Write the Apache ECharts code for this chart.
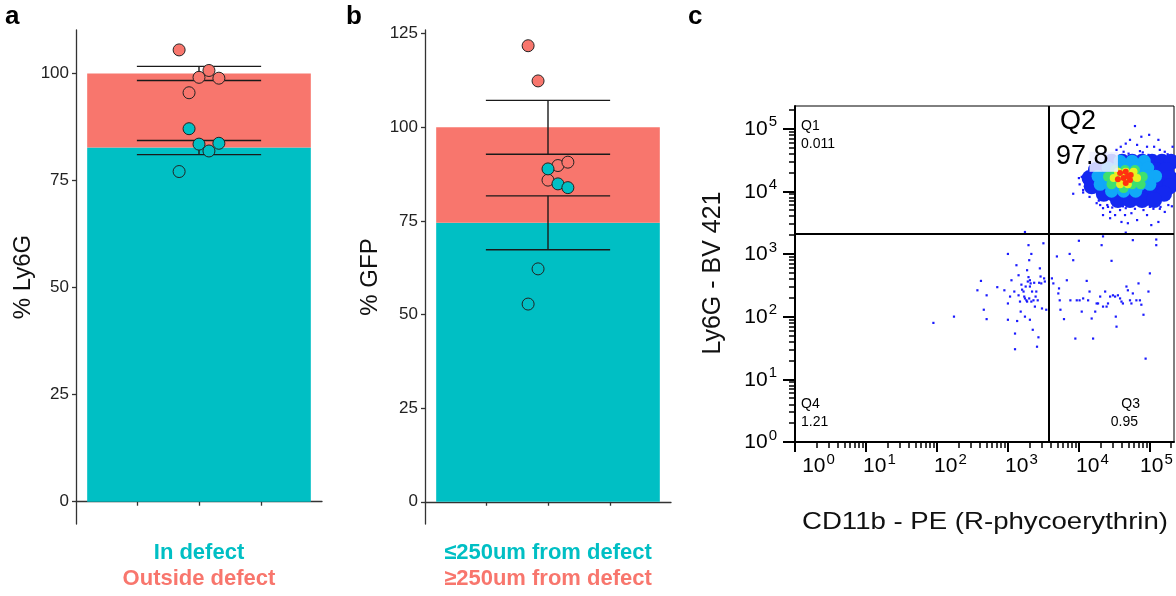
<!DOCTYPE html>
<html><head><meta charset="utf-8">
<script src="https://cdn.jsdelivr.net/npm/echarts@6/dist/echarts.min.js"></script>
<style>html,body{margin:0;padding:0;background:#fff}#c{width:1176px;height:596px}</style>
</head><body><div id="c"></div><script>
// ================= DATA =================
// panels a & b : one group centred at x = 1, five replicate points per fraction
const groupX = 1;
const jitterX = [0.92, 0.96, 1.00, 1.04, 1.08];
const yTicksA = [0, 25, 50, 75, 100];
const yTicksB = [0, 25, 50, 75, 100, 125];
const groupTicks = [0.75, 1.00, 1.25];

// a: % Ly6G
const aTealPts   = [77.1, 87.1, 83.5, 81.9, 83.7];
const aSalmonPts = [105.5, 95.5, 99.1, 100.7, 98.9];
const aTealMean = 82.7, aTotal = 100;
const aTealSE = 1.65, aSalmonSE = 1.65;
const aLabels = ['In defect', 'Outside defect'];

// b: % GFP
const bTealPts   = [52.8, 62.2, 88.9, 84.9, 83.9];
const bSalmonPts = [121.8, 112.4, 85.9, 89.8, 90.7];
const bTealMean = 74.5, bTotal = 100;
const bTealSE = 7.2, bSalmonSE = 7.2;
const bLabels = ['≤250um from defect', '≥250um from defect'];

// c: flow cytometry, values are log10 of fluorescence intensity
const cDecades = [0, 1, 2, 3, 4, 5];
const gateX = 3.58, gateY = 3.32;
const quadLabels = [['Q1', '0.011'], ['Q2', '97.8'], ['Q3', '0.95'], ['Q4', '1.21']];
const sparseEvents = [
[1.95,1.90],[2.24,2.00],[2.57,2.42],[2.62,2.57],[2.66,2.11],[2.70,2.34],[2.70,1.96],[2.85,2.47],[2.95,2.42],[3.00,3.00],
[3.00,2.21],[3.00,1.95],[3.03,2.32],[3.05,2.58],[3.09,2.40],[3.10,1.73],[3.10,1.48],[3.12,2.82],[3.13,1.93],[3.15,2.66],
[3.15,2.34],[3.17,2.24],[3.18,2.08],[3.19,2.51],[3.20,2.43],[3.22,2.40],[3.23,2.32],[3.24,2.29],[3.24,2.00],[3.25,2.48],
[3.26,2.26],[3.27,2.24],[3.27,2.74],[3.28,2.56],[3.29,2.63],[3.30,2.90],[3.30,2.29],[3.31,1.95],[3.31,2.58],[3.31,2.48],
[3.32,2.53],[3.33,3.00],[3.33,2.24],[3.34,2.40],[3.35,1.79],[3.36,2.26],[3.37,2.54],[3.38,2.16],[3.39,2.32],[3.40,2.40],
[3.41,1.52],[3.42,2.26],[3.43,1.67],[3.44,2.54],[3.45,2.77],[3.46,2.64],[3.47,2.53],[3.48,2.13],[3.51,2.61],[3.52,2.56],
[3.54,2.11],[3.24,3.35],[3.29,3.14],[3.50,3.17],
[3.62,2.61],[3.64,2.53],[3.69,2.96],[3.71,2.37],[3.72,2.45],[3.73,2.26],[3.74,2.11],[3.79,1.96],[3.83,2.58],[3.87,3.00],
[3.88,2.26],[3.92,2.90],[3.95,1.65],[3.97,2.26],[4.01,2.26],[4.04,2.08],[4.06,2.29],[4.11,2.57],[4.13,2.26],[4.15,2.40],
[4.18,1.97],[4.20,1.65],[4.23,2.08],[4.25,2.21],[4.27,2.21],[4.30,2.32],[4.34,2.16],[4.37,2.40],[4.39,2.16],[4.41,2.21],
[4.44,2.32],[4.46,2.89],[4.48,2.34],[4.51,2.32],[4.52,2.00],[4.53,1.84],[4.55,2.34],[4.58,2.29],[4.60,2.24],[4.62,2.21],
[4.67,2.48],[4.69,2.42],[4.72,2.26],[4.74,2.21],[4.76,2.37],[4.81,2.26],[4.84,2.53],[4.86,2.26],[4.88,2.19],[4.91,2.03],
[4.94,1.33],[4.98,2.40],[5.00,2.69],
[4.00,3.21],[4.34,3.28],[4.76,3.22],[5.09,3.23],[4.32,3.14],[4.66,3.34],[5.09,3.14]
];
const cloudSpeckle = [
[4.79,5.04],[4.88,4.87],[4.99,4.90],[4.72,4.82],[4.66,4.76],[4.82,4.74],[4.96,4.71],[5.06,4.71],[5.12,4.82],[4.59,4.71],
[4.53,4.66],[5.21,4.63],[5.32,4.71],[3.92,3.96],[4.04,4.23],[4.08,4.15],[4.11,4.05],[4.15,3.91],[4.20,4.31],[4.25,3.81],
[4.34,3.73],[4.44,3.67],[4.51,3.62],[4.58,3.70],[4.65,3.62],[4.60,3.51],[4.74,3.65],[4.82,3.54],[4.91,3.70],[4.96,3.62],
[5.02,3.46],[5.12,3.51],[5.21,3.67],[5.26,3.78],[4.44,3.57],[4.69,3.49],[4.34,3.62],[5.33,4.31],[5.31,3.99],
[4.40,3.78],[4.85,3.80],[5.15,3.75],[4.98,4.58],[4.70,4.60],[5.25,4.55],[4.28,3.85],[4.62,3.76],[5.05,3.72],
[4.12,4.30],[4.06,3.98],[5.30,4.50],[4.90,4.62],[4.47,3.74],
[4.37,4.61],[5.14,4.66],[5.25,4.59],[4.86,4.64],[4.63,4.63],[4.01,4.11],[4.06,4.02],[4.10,4.29],[4.00,4.21],
[4.30,3.78],[4.41,3.75],[4.79,3.72],[5.00,3.75],[5.14,3.72],[5.31,3.76],[4.66,3.73]
];
const cloudBlue = [
[4.46,4.47],[4.61,4.47],[4.75,4.47],[4.89,4.47],[5.03,4.47],[5.17,4.47],[5.30,4.47],
[4.24,4.34],[4.38,4.34],[4.52,4.34],[4.66,4.34],[4.80,4.34],[4.94,4.34],[5.08,4.34],[5.23,4.34],
[4.15,4.21],[4.30,4.21],[4.44,4.21],[4.58,4.21],[4.72,4.21],[4.86,4.21],[5.00,4.21],[5.14,4.21],[5.28,4.21],
[4.18,4.08],[4.32,4.08],[4.46,4.08],[4.61,4.08],[4.75,4.08],[4.89,4.08],[5.03,4.08],[5.17,4.08],[5.28,4.08],
[4.35,3.96],[4.49,3.96],[4.63,3.96],[4.77,3.96],[4.92,3.96],[5.06,3.96],[5.20,3.96],
[4.55,3.86],[4.72,3.86],[4.89,3.86],[5.06,3.86]
];
const cloudCyan = [
[4.58,4.48],[4.75,4.48],[4.92,4.48],
[4.41,4.37],[4.55,4.37],[4.69,4.37],[4.83,4.37],[4.97,4.37],
[4.27,4.24],[4.41,4.24],[4.55,4.24],[4.69,4.24],[4.83,4.24],[4.97,4.24],[5.08,4.24],
[4.30,4.11],[4.44,4.11],[4.58,4.11],[4.72,4.11],[4.86,4.11],[5.00,4.11],
[4.46,4.00],[4.63,4.00],[4.80,4.00]
];
const cloudGreen = [
[4.51,4.34],[4.65,4.34],[4.79,4.34],
[4.41,4.23],[4.54,4.23],[4.66,4.23],[4.79,4.23],[4.90,4.23],
[4.46,4.11],[4.61,4.11],[4.75,4.11],[4.87,4.11],
[4.63,4.05]
];
const cloudYellow = [
[4.55,4.31],[4.66,4.31],[4.77,4.31],
[4.49,4.21],[4.61,4.21],[4.72,4.21],[4.82,4.21],
[4.58,4.11],[4.69,4.11]
];
const cloudRed = [
[4.58,4.29],[4.66,4.31],[4.73,4.26],[4.63,4.21],[4.72,4.18],[4.55,4.19],[4.66,4.13],[4.69,4.24]
];
const labelBox = [[4.15, 4.63], [4.55, 4.31]];

// ================= STYLE =================
const TEAL = '#00BFC4', SALMON = '#F8766D';
const FF = '"Liberation Sans", Arial, Helvetica, sans-serif';
const minorK = [2,3,4,5,6,7,8,9];
function minorTicks(maxLog){const o=[];cDecades.forEach(n=>minorK.forEach(k=>{const v=n+Math.log10(k); if(v<maxLog)o.push(v);}));return o;}
// horizontal offset (spacer width, px) for the x tick labels of panel c
const xLabelSpacer = {0:'w47',1:'w27',2:'w27',3:'w27',4:'w27',5:'w13'};

function barRender(params, api){
  const x=api.value(0), y0=api.value(1), y1=api.value(2);
  const p0=api.coord([x-0.45,y1]), p1=api.coord([x+0.45,y0]);
  return {type:'rect',shape:{x:p0[0],y:p0[1],width:p1[0]-p0[0],height:p1[1]-p0[1]},
    style:{fill: api.value(3)?SALMON:TEAL}};
}
function errRender(params, api){
  const x=api.value(0), m=api.value(1), se=api.value(2);
  const t=api.coord([x,m+se]), b=api.coord([x,m-se]);
  const tl=api.coord([x-0.25,m+se]), tr=api.coord([x+0.25,m+se]);
  const bl=api.coord([x-0.25,m-se]), br=api.coord([x+0.25,m-se]);
  const st={stroke:'#1a1a1a',lineWidth:1.4};
  return {type:'group',children:[
    {type:'line',shape:{x1:t[0],y1:t[1],x2:b[0],y2:b[1]},style:st},
    {type:'line',shape:{x1:tl[0],y1:tl[1],x2:tr[0],y2:tr[1]},style:st},
    {type:'line',shape:{x1:bl[0],y1:bl[1],x2:br[0],y2:br[1]},style:st}]};
}

function barPanelAxes(gi, yMin, yMax, yTicks, yName, nameGap, labels){
  const x = {gridIndex:gi,type:'value',min:0.505,max:1.495,position:'bottom',
    axisLine:{show:true,lineStyle:{color:'#333',width:1.3}},
    axisTick:{show:true,length:4,customValues:groupTicks,lineStyle:{color:'#333',width:1.3}},
    axisLabel:{show:false},splitLine:{show:false},
    name:'{t|'+labels[0]+'}\n{s|'+labels[1]+'}',nameLocation:'middle',nameGap:16,
    nameTextStyle:{verticalAlign:'top',rich:{
      t:{color:TEAL,fontSize:22,fontWeight:'bold',fontFamily:FF,lineHeight:26,align:'center'},
      s:{color:SALMON,fontSize:22,fontWeight:'bold',fontFamily:FF,lineHeight:26,align:'center'}}}};
  const y = {gridIndex:gi,type:'value',min:yMin,max:yMax,
    axisLine:{show:true,lineStyle:{color:'#333',width:1.3}},
    axisTick:{show:true,length:4,customValues:yTicks,lineStyle:{color:'#333',width:1.3}},
    axisLabel:{customValues:yTicks,fontSize:17,color:'#222',fontFamily:FF,margin:7},
    splitLine:{show:false},
    name:yName,nameLocation:'middle',nameGap:nameGap,
    nameTextStyle:{fontSize:24,color:'#111',fontFamily:FF}};
  return [x,y];
}
const [axA,ayA] = barPanelAxes(0,-5.2,110.15,yTicksA,'% Ly6G',41,aLabels);
const [axB,ayB] = barPanelAxes(1,-5.94,126.0,yTicksB,'% GFP',43,bLabels);

const supRich = {
  b:{fontSize:21,color:'#000',fontFamily:FF,verticalAlign:'bottom',lineHeight:22},
  s:{fontSize:15,color:'#000',fontFamily:FF,verticalAlign:'bottom',lineHeight:16,padding:[0,0,10,1]},
  w47:{width:47,fontSize:10},w27:{width:27,fontSize:10},w13:{width:13,fontSize:10}
};
const axC = {gridIndex:2,type:'value',min:0,max:5.34,position:'bottom',
  axisLine:{show:true,lineStyle:{color:'#000',width:2}},
  axisTick:{show:true,length:10,customValues:cDecades,lineStyle:{color:'#000',width:2}},
  axisLabel:{customValues:cDecades,margin:13,align:'center',rich:supRich,
    formatter:v=>'{'+xLabelSpacer[v]+'| }{b|10}{s|'+v+'}'},
  splitLine:{show:false}};
const axCm = {gridIndex:2,type:'value',min:0,max:5.34,position:'bottom',
  axisLine:{show:false},axisTick:{show:true,length:6,customValues:minorTicks(5.34),lineStyle:{color:'#000',width:1.5}},
  axisLabel:{show:false},splitLine:{show:false}};
const ayC = {gridIndex:2,type:'value',min:0,max:5.36,position:'left',
  axisLine:{show:true,lineStyle:{color:'#000',width:2}},
  axisTick:{show:true,length:12,customValues:cDecades,lineStyle:{color:'#000',width:2}},
  axisLabel:{customValues:cDecades,margin:18,rich:supRich,formatter:v=>'{b|10}{s|'+v+'}'},
  splitLine:{show:false}};
const ayCm = {gridIndex:2,type:'value',min:0,max:5.36,position:'left',
  axisLine:{show:false},axisTick:{show:true,length:6,customValues:minorTicks(5.36),lineStyle:{color:'#000',width:1.5}},
  axisLabel:{show:false},splitLine:{show:false}};

function pointSeries(xi, yi, vals, color){
  return {type:'scatter',xAxisIndex:xi,yAxisIndex:yi,symbolSize:12,z:5,
    data:vals.map((v,i)=>[jitterX[i],v]),
    itemStyle:{color:color,borderColor:'#222',borderWidth:1,opacity:1}};
}
function cloud(data,color,size,symbol){
  return {type:'scatter',xAxisIndex:2,yAxisIndex:2,clip:true,symbol:symbol||'circle',symbolSize:size,
    data:data,itemStyle:{color:color,opacity:1},silent:true};
}

const option = {
  animation:false,
  textStyle:{fontFamily:FF},
  grid:[
    {left:76,top:30,width:246,height:494,outerBoundsMode:'none'},
    {left:425,top:30,width:246,height:494,outerBoundsMode:'none'},
    {left:795,top:106,width:379,height:336,outerBoundsMode:'none',show:true,borderColor:'#000',borderWidth:1,backgroundColor:'#fff'}
  ],
  xAxis:[axA,axB,axC,axCm],
  yAxis:[ayA,ayB,ayC,ayCm],
  series:[
    {type:'custom',xAxisIndex:0,yAxisIndex:0,renderItem:barRender,
      data:[[groupX,0,aTealMean,0],[groupX,aTealMean,aTotal,1]]},
    {type:'custom',xAxisIndex:0,yAxisIndex:0,renderItem:errRender,z:3,
      data:[[groupX,aTotal,aSalmonSE],[groupX,aTealMean,aTealSE]]},
    pointSeries(0,0,aSalmonPts,SALMON),
    pointSeries(0,0,aTealPts,TEAL),
    {type:'custom',xAxisIndex:1,yAxisIndex:1,renderItem:barRender,
      data:[[groupX,0,bTealMean,0],[groupX,bTealMean,bTotal,1]]},
    {type:'custom',xAxisIndex:1,yAxisIndex:1,renderItem:errRender,z:3,
      data:[[groupX,bTotal,bSalmonSE],[groupX,bTealMean,bTealSE]]},
    pointSeries(1,1,bSalmonPts,SALMON),
    pointSeries(1,1,bTealPts,TEAL),
    cloud(sparseEvents,'#1a1aff',2.2,'rect'),
    cloud(cloudSpeckle,'#1a1aff',2.2,'rect'),
    cloud(cloudBlue,'#1428f0',16),
    cloud(cloudCyan,'#10a8f8',13),
    cloud(cloudGreen,'#3ee070',10),
    cloud(cloudYellow,'#e8f020',8),
    cloud(cloudRed,'#ff3010',6),
    {type:'scatter',xAxisIndex:2,yAxisIndex:2,data:[],z:4,
      markArea:{silent:true,z:8,itemStyle:{color:'rgba(236,238,255,0.85)'},
        data:[[{xAxis:labelBox[0][0],yAxis:labelBox[0][1]},{xAxis:labelBox[1][0],yAxis:labelBox[1][1]}]]},
      markLine:{silent:true,z:9,symbol:['none','none'],label:{show:false},
        lineStyle:{color:'#000',width:2,type:'solid'},
        data:[{xAxis:gateX},{yAxis:gateY}]}}
  ],
  graphic:[
    {type:'text',left:5,top:4,style:{text:'a',font:'bold 26px '+FF,fill:'#000'}},
    {type:'text',left:346,top:4,style:{text:'b',font:'bold 26px '+FF,fill:'#000'}},
    {type:'text',left:688,top:4,style:{text:'c',font:'bold 26px '+FF,fill:'#000'}},
    {type:'text',left:801,top:119,z:10,style:{text:quadLabels[0][0],font:'14px '+FF,fill:'#000'}},
    {type:'text',left:801,top:137,z:10,style:{text:quadLabels[0][1],font:'14px '+FF,fill:'#000'}},
    {type:'text',left:1060,top:108,z:10,style:{text:quadLabels[1][0],font:'27px '+FF,fill:'#000'}},
    {type:'text',left:1056,top:143,z:10,style:{text:quadLabels[1][1],font:'27px '+FF,fill:'#000'}},
    {type:'text',right:36,top:397,z:10,style:{text:quadLabels[2][0],font:'14px '+FF,fill:'#000'}},
    {type:'text',right:38,top:415,z:10,style:{text:quadLabels[2][1],font:'14px '+FF,fill:'#000'}},
    {type:'text',left:801,top:397,z:10,style:{text:quadLabels[3][0],font:'14px '+FF,fill:'#000'}},
    {type:'text',left:801,top:415,z:10,style:{text:quadLabels[3][1],font:'14px '+FF,fill:'#000'}},
    {type:'text',x:985,y:522,scaleX:1.15,
      style:{text:'CD11b - PE (R-phycoerythrin)',font:'24px '+FF,fill:'#111',textAlign:'center',textVerticalAlign:'middle'}},
    {type:'text',x:713,y:273,rotation:Math.PI/2,
      style:{text:'Ly6G - BV 421',font:'25px '+FF,fill:'#111',textAlign:'center',textVerticalAlign:'middle'}}
  ]
};
const chart = echarts.init(document.getElementById('c'),null,{renderer:'canvas'});
chart.setOption(option);
</script></body></html>
